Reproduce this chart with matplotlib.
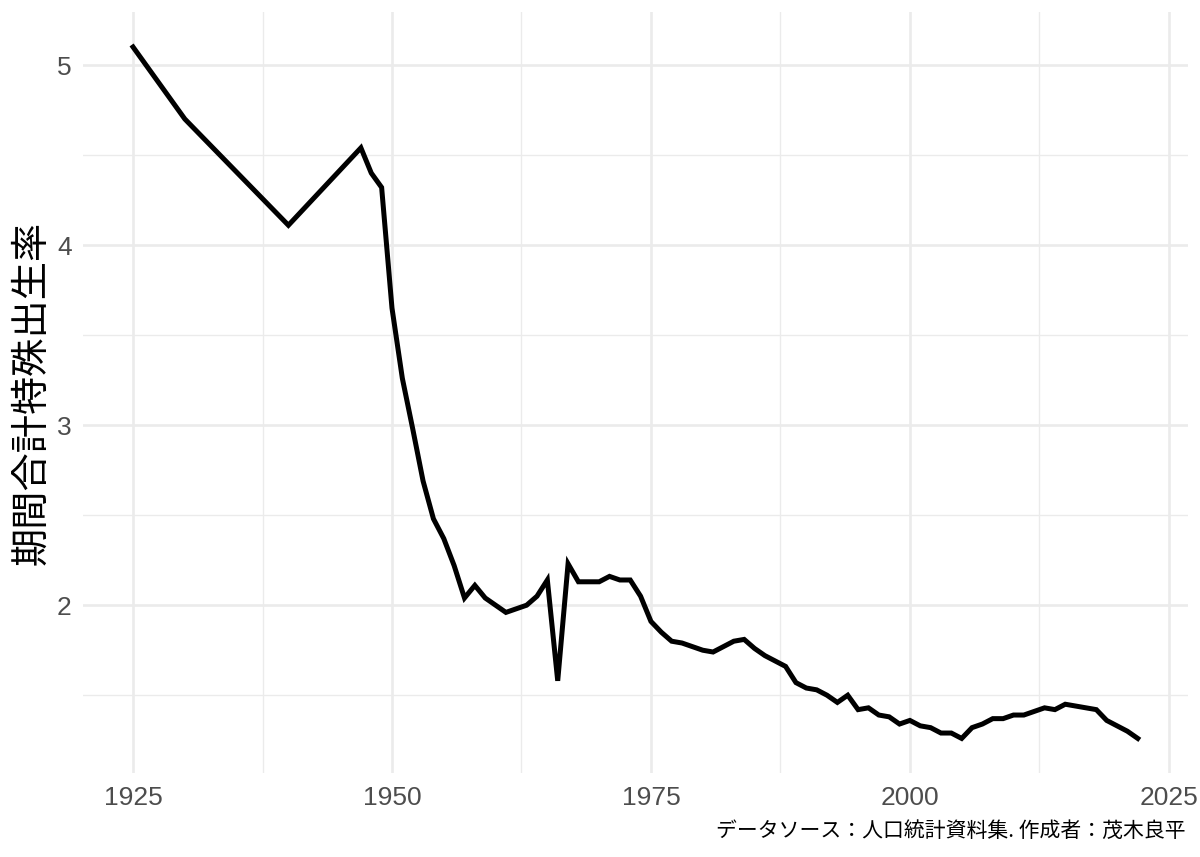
import numpy as np
import matplotlib
matplotlib.use("Agg")
import matplotlib.pyplot as plt
from matplotlib.ticker import MultipleLocator

plt.rcParams['font.family'] = ['Liberation Sans', 'Noto Sans CJK JP', 'DejaVu Sans']

# 期間合計特殊出生率（人口統計資料集）
years = [1925, 1930, 1940, 1947, 1948, 1949, 1950, 1951, 1952, 1953, 1954,
         1955, 1956, 1957, 1958, 1959, 1960, 1961, 1962, 1963, 1964, 1965,
         1966, 1967, 1968, 1969, 1970, 1971, 1972, 1973, 1974, 1975, 1976,
         1977, 1978, 1979, 1980, 1981, 1982, 1983, 1984, 1985, 1986, 1987,
         1988, 1989, 1990, 1991, 1992, 1993, 1994, 1995, 1996, 1997, 1998,
         1999, 2000, 2001, 2002, 2003, 2004, 2005, 2006, 2007, 2008, 2009,
         2010, 2011, 2012, 2013, 2014, 2015, 2016, 2017, 2018, 2019, 2020,
         2021, 2022]
tfr = [5.10, 4.70, 4.11, 4.54, 4.40, 4.32, 3.65, 3.26, 2.98, 2.69, 2.48,
       2.37, 2.22, 2.04, 2.11, 2.04, 2.00, 1.96, 1.98, 2.00, 2.05, 2.14,
       1.58, 2.23, 2.13, 2.13, 2.13, 2.16, 2.14, 2.14, 2.05, 1.91, 1.85,
       1.80, 1.79, 1.77, 1.75, 1.74, 1.77, 1.80, 1.81, 1.76, 1.72, 1.69,
       1.66, 1.57, 1.54, 1.53, 1.50, 1.46, 1.50, 1.42, 1.43, 1.39, 1.38,
       1.34, 1.36, 1.33, 1.32, 1.29, 1.29, 1.26, 1.32, 1.34, 1.37, 1.37,
       1.39, 1.39, 1.41, 1.43, 1.42, 1.45, 1.44, 1.43, 1.42, 1.36, 1.33,
       1.30, 1.26]

ylabel = "期間合計特殊出生率"
caption = "データソース：人口統計資料集. 作成者：茂木良平"

fig = plt.figure(figsize=(12, 8.57), dpi=100)
ax = fig.add_axes([0.069, 0.098, 0.921, 0.8875])

ax.plot(years, tfr, color="black", linewidth=3.6, solid_joinstyle="miter", zorder=3)

# ggplot風の余白（5%）
xr = max(years) - min(years)
yr = max(tfr) - min(tfr)
ax.set_xlim(min(years) - 0.05 * xr, max(years) + 0.05 * xr)
ax.set_ylim(min(tfr) - 0.05 * yr, max(tfr) + 0.05 * yr)

ax.xaxis.set_major_locator(MultipleLocator(25))
ax.xaxis.set_minor_locator(MultipleLocator(12.5))
ax.yaxis.set_major_locator(MultipleLocator(1))
ax.yaxis.set_minor_locator(MultipleLocator(0.5))

ax.grid(which="major", color="#EBEBEB", linewidth=1.9)
ax.grid(which="minor", color="#EBEBEB", linewidth=0.95)
ax.set_axisbelow(True)
for s in ax.spines.values():
    s.set_visible(False)
ax.tick_params(which="both", length=0)
ax.tick_params(axis="x", labelsize=19, labelcolor="#4D4D4D", pad=9)
ax.tick_params(axis="y", labelsize=19, labelcolor="#4D4D4D", pad=8)

ax.set_ylabel(ylabel, fontsize=27.5, family=['Noto Sans CJK JP', 'DejaVu Sans'],
              labelpad=4)
fig.text(0.988, 0.030, caption, ha="right", va="center", fontsize=15,
         family=['Noto Sans CJK JP', 'DejaVu Sans'])

fig.savefig("out.png", dpi=100, facecolor="white")
